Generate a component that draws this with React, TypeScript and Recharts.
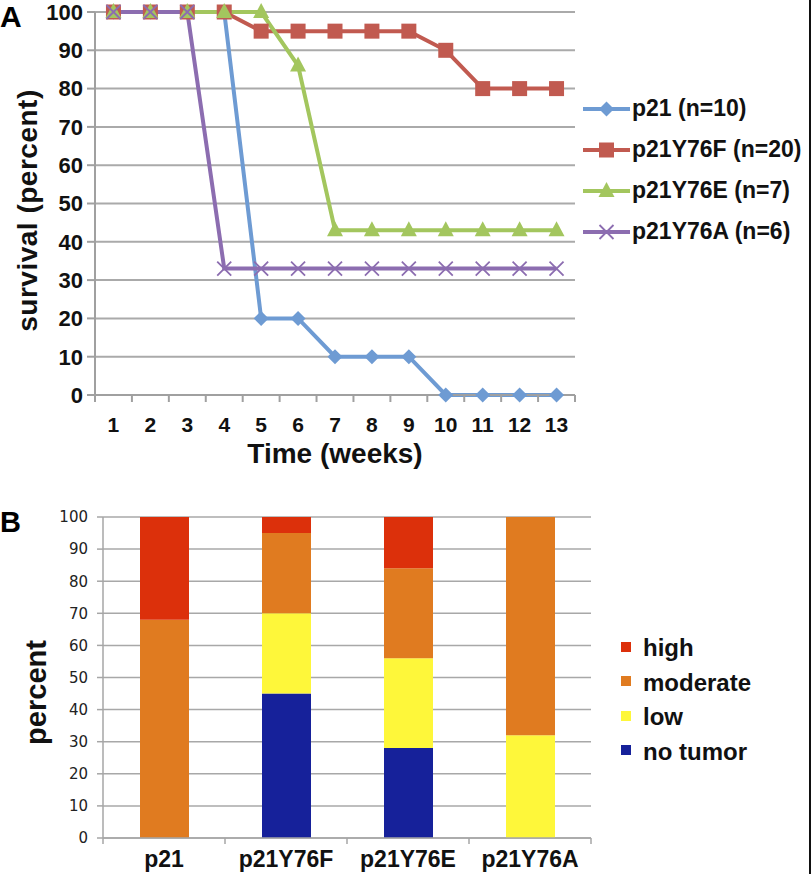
import React from 'react';
import { LineChart, Line, XAxis, YAxis, CartesianGrid, Legend, BarChart, Bar } from 'recharts';

// ---------- Panel A data ----------
const weeks = [1, 2, 3, 4, 5, 6, 7, 8, 9, 10, 11, 12, 13];
const p21 = [100, 100, 100, 100, 20, 20, 10, 10, 10, 0, 0, 0, 0];
const p21Y76F = [100, 100, 100, 100, 95, 95, 95, 95, 95, 90, 80, 80, 80];
const p21Y76E = [100, 100, 100, 100, 100, 86, 43, 43, 43, 43, 43, 43, 43];
const p21Y76A = [100, 100, 100, 33, 33, 33, 33, 33, 33, 33, 33, 33, 33];
const survivalTicks = [0, 10, 20, 30, 40, 50, 60, 70, 80, 90, 100];
const weekAxisTicks = [0.5, 1, 1.5, 2, 2.5, 3, 3.5, 4, 4.5, 5, 5.5, 6, 6.5, 7, 7.5, 8, 8.5, 9, 9.5, 10, 10.5, 11, 11.5, 12, 12.5, 13, 13.5];

// ---------- Panel B data ----------
const groups = ['p21', 'p21Y76F', 'p21Y76E', 'p21Y76A'];
const noTumor = [0, 45, 28, 0];
const low = [0, 25, 28, 32];
const moderate = [68, 25, 28, 68];
const high = [32, 5, 16, 0];
const percentTicks = [0, 10, 20, 30, 40, 50, 60, 70, 80, 90, 100];
const groupAxisTicks = [0.5, 1, 1.5, 2, 2.5, 3, 3.5, 4, 4.5];

const FONT = '"Liberation Sans", Arial, Helvetica, sans-serif';

const survivalSeries = [
  { key: 'p21', name: 'p21 (n=10)', color: '#6E9BD3', shape: 'diamond', values: p21 },
  { key: 'p21Y76F', name: 'p21Y76F (n=20)', color: '#C15A50', shape: 'square', values: p21Y76F },
  { key: 'p21Y76E', name: 'p21Y76E (n=7)', color: '#A3C65E', shape: 'triangle', values: p21Y76E },
  { key: 'p21Y76A', name: 'p21Y76A (n=6)', color: '#8C6DB0', shape: 'x', values: p21Y76A },
];

const tumorSeries = [
  { key: 'noTumor', name: 'no tumor', color: '#16219A', values: noTumor },
  { key: 'low', name: 'low', color: '#FEF73A', values: low },
  { key: 'moderate', name: 'moderate', color: '#E07B20', values: moderate },
  { key: 'high', name: 'high', color: '#DC300B', values: high },
];

const survivalData = weeks.map((w, i) => {
  const row: any = { week: w };
  survivalSeries.forEach((s) => { row[s.key] = s.values[i]; });
  return row;
});

const tumorData = groups.map((g, i) => {
  const row: any = { pos: i + 1, name: g };
  tumorSeries.forEach((s) => { row[s.key] = s.values[i]; });
  return row;
});

function marker(shape: string, cx: number, cy: number, color: string, key?: any) {
  switch (shape) {
    case 'diamond':
      return <path key={key} d={`M${cx},${cy - 7.5}L${cx + 7.5},${cy}L${cx},${cy + 7.5}L${cx - 7.5},${cy}Z`} fill={color} />;
    case 'square':
      return <rect key={key} x={cx - 7.5} y={cy - 7.5} width={15} height={15} fill={color} />;
    case 'triangle':
      return <path key={key} d={`M${cx},${cy - 9}L${cx + 8},${cy + 6}L${cx - 8},${cy + 6}Z`} fill={color} />;
    default:
      return (
        <path key={key} d={`M${cx - 7},${cy - 7}L${cx + 7},${cy + 7}M${cx + 7},${cy - 7}L${cx - 7},${cy + 7}`}
          stroke={color} strokeWidth={1.8} fill="none" />
      );
  }
}

const makeDot = (shape: string, color: string) => (props: any) => {
  const { cx, cy, index } = props;
  if (cx == null || cy == null) return <g key={index} />;
  return marker(shape, cx, cy, color, index);
};

const WeekTick = (props: any) => {
  const { x, y, payload } = props;
  const v = payload.value;
  if (Number.isInteger(v)) {
    return (
      <text x={x} y={y + 37} textAnchor="middle" fontFamily={FONT} fontWeight="bold" fontSize={21} fill="#111">
        {v}
      </text>
    );
  }
  return <line x1={x} x2={x} y1={y} y2={y + 7} stroke="#A0A0A0" strokeWidth={2} />;
};

const GroupTick = (props: any) => {
  const { x, y, payload } = props;
  const v = payload.value;
  if (Number.isInteger(v)) {
    return (
      <text x={x} y={y + 29} textAnchor="middle" fontFamily={FONT} fontWeight="bold" fontSize={23} fill="#111">
        {groups[v - 1]}
      </text>
    );
  }
  return <line x1={x} x2={x} y1={y} y2={y + 6} stroke="#A6A6A6" strokeWidth={1.5} />;
};

const SurvivalLegend = () => (
  <div style={{ paddingLeft: 8 }}>
    {survivalSeries.map((s) => (
      <div key={s.key} style={{ height: 41, display: 'flex', alignItems: 'center', whiteSpace: 'nowrap' }}>
        <svg width={47} height={20} style={{ display: 'block' }}>
          <line x1={0} x2={47} y1={10} y2={10} stroke={s.color} strokeWidth={4} />
          {marker(s.shape, 23.5, 10, s.color)}
        </svg>
        <span style={{ fontFamily: FONT, fontWeight: 'bold', fontSize: 23, marginLeft: 2, color: '#111' }}>{s.name}</span>
      </div>
    ))}
  </div>
);

const TumorLegend = () => (
  <div style={{ paddingLeft: 30 }}>
    {[...tumorSeries].reverse().map((s) => (
      <div key={s.key} style={{ height: 34.5, display: 'flex', alignItems: 'center', whiteSpace: 'nowrap' }}>
        <div style={{ width: 10, height: 10, background: s.color, marginTop: -3 }} />
        <span style={{ fontFamily: FONT, fontWeight: 'bold', fontSize: 24, marginLeft: 12, color: '#111' }}>{s.name}</span>
      </div>
    ))}
  </div>
);

export default function App() {
  return (
    <div style={{ position: 'absolute', left: 0, top: 0, width: 812, height: 874, background: '#fff', overflow: 'hidden' }}>
      <div style={{ position: 'absolute', left: 0, top: 0 }}>
        <LineChart width={812} height={490} data={survivalData} margin={{ top: 12, right: 0, left: 0, bottom: 0 }}>
          <CartesianGrid vertical={false} stroke="#AAAAAA" strokeWidth={2} />
          <XAxis
            dataKey="week"
            type="number"
            domain={[0.5, 13.5]}
            ticks={weekAxisTicks}
            interval={0}
            height={95}
            tickSize={0}
            tickMargin={0}
            tickLine={false}
            axisLine={{ stroke: '#A0A0A0', strokeWidth: 2 }}
            tick={(p: any) => <WeekTick {...p} />}
            label={{
              content: (lp: any) => {
                const vb = lp.viewBox;
                return (
                  <text x={vb.x + vb.width / 2} y={vb.y + 68} textAnchor="middle" fontFamily={FONT} fontWeight="bold" fontSize={28} fill="#111">
                    Time (weeks)
                  </text>
                );
              },
            }}
          />
          <YAxis
            type="number"
            domain={[0, 100]}
            ticks={survivalTicks}
            interval={0}
            width={95}
            tickSize={8}
            tickMargin={4}
            tickLine={{ stroke: '#A0A0A0', strokeWidth: 2 }}
            axisLine={{ stroke: '#A0A0A0', strokeWidth: 2 }}
            tick={{ fontFamily: FONT, fontWeight: 'bold', fontSize: 22, fill: '#111' }}
            label={{
              content: (lp: any) => {
                const vb = lp.viewBox;
                const cx = vb.x + 27;
                const cy = vb.y + vb.height / 2 + 7;
                return (
                  <text x={cx} y={cy} transform={`rotate(-90 ${cx} ${cy})`} textAnchor="middle" dominantBaseline="central"
                    fontFamily={FONT} fontWeight="bold" fontSize={28} letterSpacing={0.5} fill="#111">
                    survival (percent)
                  </text>
                );
              },
            }}
          />
          <Legend layout="vertical" align="right" verticalAlign="top" wrapperStyle={{ width: 237, top: 88 }} content={() => <SurvivalLegend />} />
          {survivalSeries.map((s) => (
            <Line
              key={s.key}
              dataKey={s.key}
              name={s.name}
              stroke={s.color}
              strokeWidth={4}
              type="linear"
              dot={makeDot(s.shape, s.color)}
              activeDot={false}
              isAnimationActive={false}
            />
          ))}
        </LineChart>
      </div>

      <div style={{ position: 'absolute', left: 0, top: 490 }}>
        <BarChart width={812} height={384} data={tumorData} margin={{ top: 27, right: 0, left: 0, bottom: 0 }}>
          <CartesianGrid vertical={false} stroke="#A8A8A8" strokeWidth={1.5} />
          <XAxis
            dataKey="pos"
            type="number"
            domain={[0.5, 4.5]}
            ticks={groupAxisTicks}
            interval={0}
            height={36}
            tickSize={0}
            tickMargin={0}
            tickLine={false}
            axisLine={{ stroke: '#A6A6A6', strokeWidth: 1.5 }}
            tick={(p: any) => <GroupTick {...p} />}
          />
          <YAxis
            type="number"
            domain={[0, 100]}
            ticks={percentTicks}
            interval={0}
            width={103}
            tickSize={6}
            tickMargin={9}
            tickLine={{ stroke: '#A6A6A6', strokeWidth: 1.5 }}
            axisLine={{ stroke: '#A6A6A6', strokeWidth: 1.5 }}
            tick={{ fontFamily: '"DejaVu Sans", sans-serif', fontSize: 15, fill: '#222' }}
            label={{
              content: (lp: any) => {
                const vb = lp.viewBox;
                const cx = vb.x + 36;
                const cy = vb.y + vb.height / 2 + 15;
                return (
                  <text x={cx} y={cy} transform={`rotate(-90 ${cx} ${cy})`} textAnchor="middle" dominantBaseline="central"
                    fontFamily={FONT} fontWeight="bold" fontSize={29} fill="#111">
                    percent
                  </text>
                );
              },
            }}
          />
          <Legend layout="vertical" align="right" verticalAlign="top" wrapperStyle={{ width: 221, top: 141 }} content={() => <TumorLegend />} />
          {tumorSeries.map((s) => (
            <Bar key={s.key} dataKey={s.key} name={s.name} stackId="t" fill={s.color} barSize={49} isAnimationActive={false} />
          ))}
        </BarChart>
      </div>

      <div style={{ position: 'absolute', left: 0, top: 2, fontFamily: FONT, fontWeight: 'bold', fontSize: 30, lineHeight: '30px', color: '#000' }}>A</div>
      <div style={{ position: 'absolute', left: 0, top: 508, fontFamily: FONT, fontWeight: 'bold', fontSize: 29, lineHeight: '29px', color: '#000' }}>B</div>
      <div style={{ position: 'absolute', left: 809, top: 0, width: 2, height: 874, background: '#111' }} />
    </div>
  );
}
